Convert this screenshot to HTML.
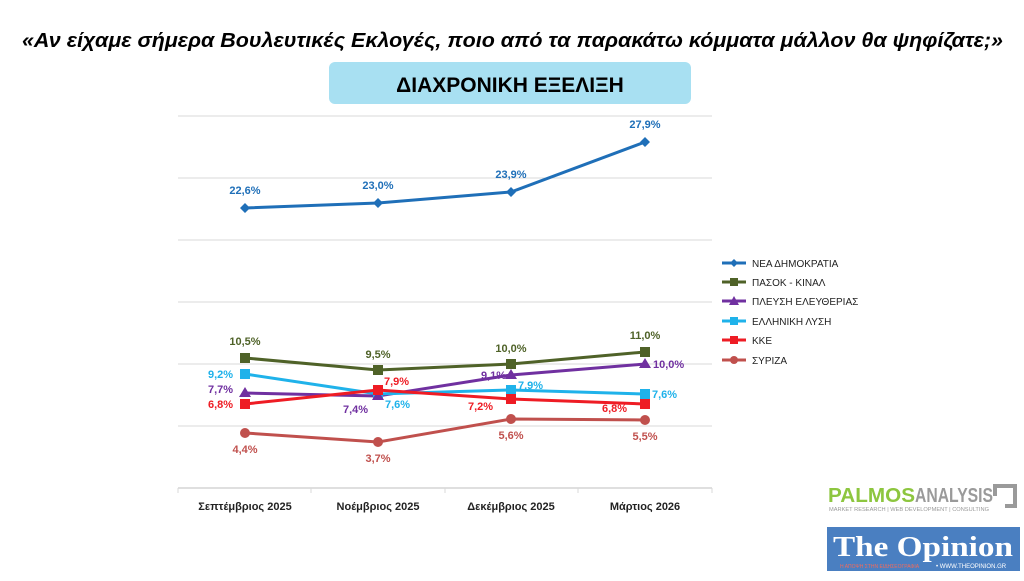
<!DOCTYPE html><html><head><meta charset="utf-8"><style>body{margin:0;width:1024px;height:576px;background:#fff;overflow:hidden;font-family:"Liberation Sans",sans-serif}</style></head><body>
<svg width="1024" height="576" xmlns="http://www.w3.org/2000/svg" font-family="Liberation Sans, sans-serif">
<text x="22" y="47" font-size="20" font-weight="bold" font-style="italic" textLength="981" lengthAdjust="spacingAndGlyphs">«Αν είχαμε σήμερα Βουλευτικές Εκλογές, ποιο από τα παρακάτω κόμματα μάλλον θα ψηφίζατε;»</text>
<rect x="329" y="62" width="362" height="42" rx="6" fill="#a8e0f2"/>
<text x="510" y="92" text-anchor="middle" font-size="21" font-weight="bold">ΔΙΑΧΡΟΝΙΚΗ ΕΞΕΛΙΞΗ</text>
<g stroke="#d9d9d9" stroke-width="1">
<line x1="178" y1="116" x2="712" y2="116"/><line x1="178" y1="178" x2="712" y2="178"/><line x1="178" y1="240" x2="712" y2="240"/><line x1="178" y1="302" x2="712" y2="302"/><line x1="178" y1="364" x2="712" y2="364"/><line x1="178" y1="426" x2="712" y2="426"/>
<line x1="178" y1="488" x2="712" y2="488" stroke="#bfbfbf"/>
<line x1="178" y1="488" x2="178" y2="493"/><line x1="311" y1="488" x2="311" y2="493"/><line x1="445" y1="488" x2="445" y2="493"/><line x1="578" y1="488" x2="578" y2="493"/><line x1="712" y1="488" x2="712" y2="493"/>
</g>
<g font-size="11" font-weight="bold" text-anchor="middle" fill="#222">
<text x="245" y="510">Σεπτέμβριος 2025</text><text x="378" y="510">Νοέμβριος 2025</text><text x="511" y="510">Δεκέμβριος 2025</text><text x="645" y="510">Μάρτιος 2026</text></g>
<g fill="none" stroke-width="3">
<polyline points="245,208 378,203 511,192 645,142" stroke="#1f6fb8"/>
<polyline points="245,358 378,370 511,364 645,352" stroke="#4f6228"/>
<polyline points="245,393 378,396 511,375 645,364" stroke="#7030a0"/>
<polyline points="245,374 378,394 511,390 645,394" stroke="#1fb2ea"/>
<polyline points="245,404 378,390 511,399 645,404" stroke="#ee1c24"/>
<polyline points="245,433 378,442 511,419 645,420" stroke="#c0504d"/>
</g>
<g fill="#1f6fb8"><path d="M245,203l5,5-5,5-5-5z M378,198l5,5-5,5-5-5z M511,187l5,5-5,5-5-5z M645,137l5,5-5,5-5-5z"/></g>
<g fill="#4f6228"><rect x="240" y="353" width="10" height="10"/><rect x="373" y="365" width="10" height="10"/><rect x="506" y="359" width="10" height="10"/><rect x="640" y="347" width="10" height="10"/></g>
<g fill="#1fb2ea"><rect x="240" y="369" width="10" height="10"/><rect x="373" y="389" width="10" height="10"/><rect x="506" y="385" width="10" height="10"/><rect x="640" y="389" width="10" height="10"/></g>
<g fill="#7030a0"><path d="M245,387l6,10h-12z M378,390l6,10h-12z M511,369l6,10h-12z M645,358l6,10h-12z"/></g>
<g fill="#ee1c24"><rect x="240" y="399" width="10" height="10"/><rect x="373" y="385" width="10" height="10"/><rect x="506" y="394" width="10" height="10"/><rect x="640" y="399" width="10" height="10"/></g>
<g fill="#c0504d"><circle cx="245" cy="433" r="5"/><circle cx="378" cy="442" r="5"/><circle cx="511" cy="419" r="5"/><circle cx="645" cy="420" r="5"/></g>
<g font-size="11" font-weight="bold">
<g fill="#1f6fb8" text-anchor="middle"><text x="245" y="194">22,6%</text><text x="378" y="189">23,0%</text><text x="511" y="178">23,9%</text><text x="645" y="128">27,9%</text></g>
<g fill="#4f6228" text-anchor="middle"><text x="245" y="345">10,5%</text><text x="378" y="358">9,5%</text><text x="511" y="352">10,0%</text><text x="645" y="339">11,0%</text></g>
<g fill="#1fb2ea"><text x="208" y="378">9,2%</text><text x="385" y="408">7,6%</text><text x="518" y="389">7,9%</text><text x="652" y="398">7,6%</text></g>
<g fill="#7030a0"><text x="208" y="393">7,7%</text><text x="343" y="413">7,4%</text><text x="481" y="379">9,1%</text><text x="653" y="368">10,0%</text></g>
<g fill="#ee1c24"><text x="208" y="408">6,8%</text><text x="384" y="385">7,9%</text><text x="468" y="410">7,2%</text><text x="602" y="412">6,8%</text></g>
<g fill="#c0504d" text-anchor="middle"><text x="245" y="453">4,4%</text><text x="378" y="462">3,7%</text><text x="511" y="439">5,6%</text><text x="645" y="440">5,5%</text></g>
</g>
<g font-size="10" fill="#222">
<line x1="722" y1="263" x2="746" y2="263" stroke="#1f6fb8" stroke-width="3"/><path d="M734,259l4,4-4,4-4-4z" fill="#1f6fb8"/><text x="752" y="267">ΝΕΑ ΔΗΜΟΚΡΑΤΙΑ</text>
<line x1="722" y1="282" x2="746" y2="282" stroke="#4f6228" stroke-width="3"/><rect x="730" y="278" width="8" height="8" fill="#4f6228"/><text x="752" y="286">ΠΑΣΟΚ - ΚΙΝΑΛ</text>
<line x1="722" y1="301" x2="746" y2="301" stroke="#7030a0" stroke-width="3"/><path d="M734,296l5,9h-10z" fill="#7030a0"/><text x="752" y="305">ΠΛΕΥΣΗ ΕΛΕΥΘΕΡΙΑΣ</text>
<line x1="722" y1="321" x2="746" y2="321" stroke="#1fb2ea" stroke-width="3"/><rect x="730" y="317" width="8" height="8" fill="#1fb2ea"/><text x="752" y="325">ΕΛΛΗΝΙΚΗ ΛΥΣΗ</text>
<line x1="722" y1="340" x2="746" y2="340" stroke="#ee1c24" stroke-width="3"/><rect x="730" y="336" width="8" height="8" fill="#ee1c24"/><text x="752" y="344">ΚΚΕ</text>
<line x1="722" y1="360" x2="746" y2="360" stroke="#c0504d" stroke-width="3"/><circle cx="734" cy="360" r="4" fill="#c0504d"/><text x="752" y="364">ΣΥΡΙΖΑ</text>
</g>
<text x="828" y="502" font-size="20" font-weight="bold" fill="#8dc63f" textLength="87" lengthAdjust="spacingAndGlyphs">PALMOS</text>
<text x="915" y="502" font-size="20" font-weight="bold" fill="#9a9a9a" textLength="78" lengthAdjust="spacingAndGlyphs">ANALYSIS</text>
<text x="829" y="511" font-size="5" fill="#999" textLength="160" lengthAdjust="spacingAndGlyphs">MARKET RESEARCH | WEB DEVELOPMENT | CONSULTING</text>
<path d="M993,484h24v24h-12v-4h8v-16h-16v8h-4z" fill="#9a9a9a"/>
<rect x="827" y="527" width="193" height="44" fill="#4a7fc1"/>
<text x="923" y="556" text-anchor="middle" font-family="Liberation Serif, serif" font-size="28" font-weight="bold" fill="#fff" textLength="180" lengthAdjust="spacingAndGlyphs">The Opinion</text>
<text x="936" y="568" font-size="6" fill="#fff">• WWW.THEOPINION.GR</text>
<text x="840" y="568" font-size="5" fill="#f26b5b">Η ΑΠΟΨΗ ΣΤΗΝ ΕΙΔΗΣΕΟΓΡΑΦΙΑ</text>
</svg></body></html>
